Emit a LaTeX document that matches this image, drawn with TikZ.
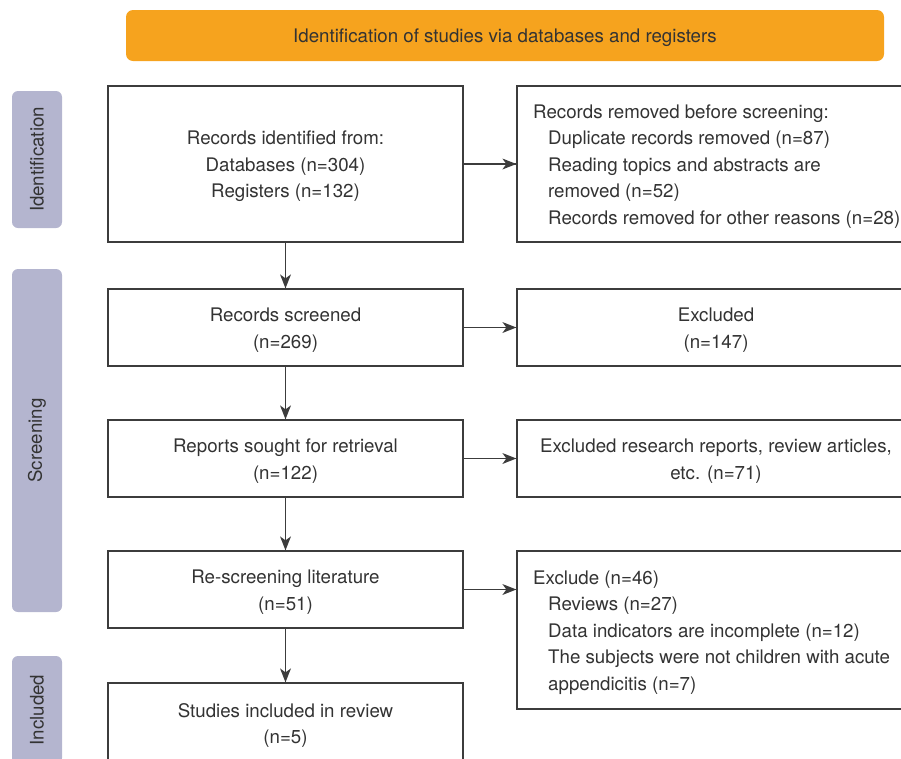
\documentclass[tikz,border=0pt]{standalone}
\usepackage{fontspec}
\setmainfont{TeX Gyre Heros}
\definecolor{bannerorange}{HTML}{F6A31E}
\definecolor{sidelabel}{HTML}{B4B5CF}
\definecolor{txt}{HTML}{333333}
\definecolor{edge}{HTML}{3C3C3C}
\newcommand{\topgap}{\rule{0pt}{19pt}}
\tikzset{
  box/.style={draw=edge, line width=1.3pt, fill=white, text=txt, align=center, inner sep=0pt},
  sidebox/.style={fill=sidelabel, rounded corners=6pt, minimum height=50pt, text=txt, rotate=90, inner sep=0pt},
  bannerbox/.style={fill=bannerorange, rounded corners=7pt, minimum width=758pt, minimum height=51pt, text=txt, inner sep=0pt},
  txtnode/.style={text=txt, align=left, inner sep=0pt, anchor=west},
  arr/.style={draw=edge, line width=1.3pt},
  tipdown/.pic={\fill[edge] (0,0) -- (-5.5,14) -- (0,10) -- (5.5,14) -- cycle;},
  tipright/.pic={\fill[edge] (0,0) -- (-14,5.5) -- (-10,0) -- (-14,-5.5) -- cycle;}
}
\begin{document}
\begin{tikzpicture}[x=1pt,y=1pt,font=\fontsize{18.7}{26.5}\selectfont]
\useasboundingbox (0,0) rectangle (901,-758);
\clip (0,0) rectangle (901,-758);
% banner
\node[bannerbox] (banner) at (505,-35.5) {\topgap Identification of studies via databases and registers};
% side labels
\node[sidebox, minimum width=137pt] (sideid) at (37,-159.5) {Identification};
\node[sidebox, minimum width=343pt] (sidescr) at (37,-440.5) {Screening};
\node[sidebox, minimum width=108pt] (sideinc) at (37,-710) {Included};
% left column
\node[box, minimum width=355pt, minimum height=156pt] (b1) at (285.5,-164) {\topgap Records identified from:\\Databases (n=304)\\Registers (n=132)};
\node[box, minimum width=355pt, minimum height=77pt] (b3) at (285.5,-327.5) {\topgap Records screened\\(n=269)};
\node[box, minimum width=355pt, minimum height=77pt] (b5) at (285.5,-458.5) {\topgap Reports sought for retrieval\\(n=122)};
\node[box, minimum width=355pt, minimum height=77pt] (b7) at (285.5,-589.5) {\topgap Re-screening literature\\(n=51)};
\node[box, minimum width=355pt, minimum height=80pt] (b9) at (285.5,-723) {\topgap Studies included in review\\(n=5)};
% right column
\node[box, minimum width=398pt, minimum height=156pt] (b2) at (716,-164) {};
\node[txtnode] (t2) at (533,-166.5) {Records removed before screening:\\\hspace*{15pt}Duplicate records removed (n=87)\\\hspace*{15pt}Reading topics and abstracts are\\\hspace*{15pt}removed (n=52)\\\hspace*{15pt}Records removed for other reasons (n=28)};
\node[box, minimum width=398pt, minimum height=77pt] (b4) at (716,-327.5) {\topgap Excluded\\(n=147)};
\node[box, minimum width=398pt, minimum height=77pt] (b6) at (716,-458.5) {\topgap Excluded research reports, review articles,\\etc. (n=71)};
\node[box, minimum width=398pt, minimum height=158pt] (b8) at (716,-630) {};
\node[txtnode] (t8) at (533,-632.5) {Exclude (n=46)\\\hspace*{15pt}Reviews (n=27)\\\hspace*{15pt}Data indicators are incomplete (n=12)\\\hspace*{15pt}The subjects were not children with acute\\\hspace*{15pt}appendicitis (n=7)};
% vertical connectors
\draw[arr] (b1.south) -- (b3.north);
\draw[arr] (b3.south) -- (b5.north);
\draw[arr] (b5.south) -- (b7.north);
\draw[arr] (b7.south) -- (b9.north);
\pic at (b3.north) {tipdown};
\pic at (b5.north) {tipdown};
\pic at (b7.north) {tipdown};
\pic at (b9.north) {tipdown};
% horizontal connectors
\coordinate (e2) at (b2.west |- b1.east);
\coordinate (e4) at (b4.west |- b3.east);
\coordinate (e6) at (b6.west |- b5.east);
\coordinate (e8) at (b8.west |- b7.east);
\draw[arr] (b1.east) -- (e2);
\draw[arr] (b3.east) -- (e4);
\draw[arr] (b5.east) -- (e6);
\draw[arr] (b7.east) -- (e8);
\pic at (e2) {tipright};
\pic at (e4) {tipright};
\pic at (e6) {tipright};
\pic at (e8) {tipright};
\end{tikzpicture}
\end{document}
